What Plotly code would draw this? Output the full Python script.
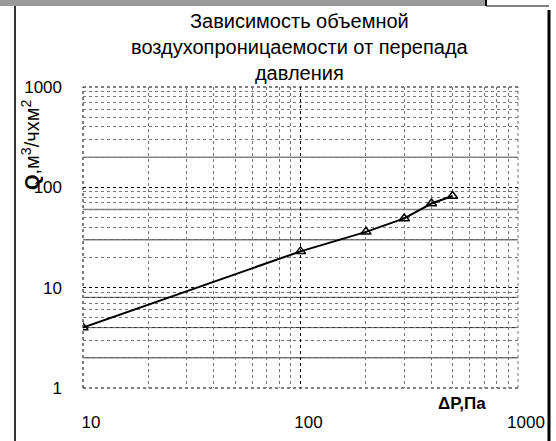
import plotly.graph_objects as go

# Data
pressure_pa = [10, 100, 200, 300, 400, 500]
air_flow = [4, 23, 36, 49, 69, 82]

x_tick_vals = [10, 100, 1000]
x_tick_text = ["10", "100", "1000"]
y_tick_vals = [1, 10, 100, 1000]
y_tick_text = ["1", "10", "100", "1000"]

title_text = "Зависимость объемной<br>воздухопроницаемости от перепада<br>давления"
y_title = "<b>Q</b>,м<sup>3</sup>/чхм<sup>2</sup>"
x_title = "<b>ΔP,Па</b>"

# levels at which the scanned chart shows heavier horizontal grid lines (styling)
heavy_grid_levels = [2, 4, 8, 30, 60, 200]
heavy_grid_colors = ["#222", "#222", "#222", "#222", "#888", "#888"]

W, H = 556, 441
L, R, T, B = 83, 38, 87, 53
pw, ph = W - L - R, H - T - B


def px_x(p):
    return (p - L) / pw


def px_y(p):
    return (H - B - p) / ph


FONT = "Liberation Sans, Arial, sans-serif"

fig = go.Figure()
fig.add_trace(go.Scatter(
    x=pressure_pa, y=air_flow, mode="lines+markers",
    line=dict(color="black", width=2),
    marker=dict(symbol="triangle-up-open", size=9, color="black",
                line=dict(width=1.5, color="black")),
    showlegend=False,
))

shapes = []
for lvl, col in zip(heavy_grid_levels, heavy_grid_colors):
    shapes.append(dict(type="line", xref="paper", yref="y", x0=0, x1=1,
                       y0=lvl, y1=lvl, line=dict(color=col, width=1.5 if col == "#888" else 1),
                       layer="below"))
# plot-area edges drawn dotted like the original's gridlines
shapes += [
    dict(type="line", xref="paper", yref="paper", x0=0, x1=0, y0=0, y1=1,
         line=dict(color="black", width=1, dash="dot"), layer="below"),
    dict(type="line", xref="paper", yref="paper", x0=0, x1=1, y0=0, y1=0,
         line=dict(color="black", width=1, dash="dot"), layer="below"),
    dict(type="line", xref="paper", yref="paper", x0=1, x1=1, y0=0, y1=1,
         line=dict(color="#777", width=1, dash="dot"), layer="below"),
    dict(type="line", xref="paper", yref="paper", x0=0, x1=1, y0=1, y1=1,
         line=dict(color="black", width=1, dash="dot"), layer="below"),
]
# outer frame (scanned border)
shapes += [
    dict(type="rect", xref="paper", yref="paper", x0=px_x(0), x1=px_x(486),
         y0=px_y(6), y1=px_y(0), fillcolor="#9a9a9a", line=dict(width=0)),
    dict(type="line", xref="paper", yref="paper", x0=px_x(15), x1=px_x(15),
         y0=px_y(6), y1=px_y(441), line=dict(color="#333", width=2)),
    dict(type="line", xref="paper", yref="paper", x0=px_x(486), x1=px_x(549),
         y0=px_y(6), y1=px_y(6), line=dict(color="black", width=1)),
    dict(type="line", xref="paper", yref="paper", x0=px_x(486), x1=px_x(486),
         y0=px_y(0), y1=px_y(6), line=dict(color="black", width=2)),
    dict(type="line", xref="paper", yref="paper", x0=px_x(549), x1=px_x(549),
         y0=px_y(10), y1=px_y(441), line=dict(color="black", width=3)),
]

annotations = [
    dict(text=title_text, xref="paper", yref="paper", x=px_x(300), y=px_y(8),
         xanchor="center", yanchor="top", showarrow=False,
         font=dict(family=FONT, size=20, color="black")),
    dict(text=y_title, xref="paper", yref="paper", x=px_x(30), y=px_y(145),
         xanchor="center", yanchor="middle", textangle=-90, showarrow=False,
         font=dict(family=FONT, size=20, color="black")),
    dict(text=x_title, xref="paper", yref="paper", x=px_x(462), y=px_y(403),
         xanchor="center", yanchor="middle", showarrow=False,
         font=dict(family=FONT, size=17, color="black")),
]

grid_common = dict(
    showgrid=True, gridcolor="black", griddash="dot", gridwidth=1,
    showline=False, zeroline=False, ticks="", automargin=False,
    tickfont=dict(family=FONT, size=17, color="black"),
    minor=dict(dtick="D1", showgrid=True, gridcolor="#777", griddash="dot", gridwidth=1),
)

fig.update_layout(
    width=W, height=H, autosize=False,
    margin=dict(l=L, r=R, t=T, b=B, pad=0),
    paper_bgcolor="white", plot_bgcolor="white",
    xaxis=dict(type="log", range=[1, 3], tickvals=x_tick_vals, ticktext=x_tick_text,
               ticklabelstandoff=22, ticklabelshift=8, **grid_common),
    yaxis=dict(type="log", range=[0, 3], tickvals=y_tick_vals, ticktext=y_tick_text,
               ticklabelstandoff=20, **grid_common),
    shapes=shapes, annotations=annotations,
)

fig.write_html("out.html", config={"displayModeBar": False},
               post_script="document.body.style.margin='0';document.body.style.overflow='hidden';")
